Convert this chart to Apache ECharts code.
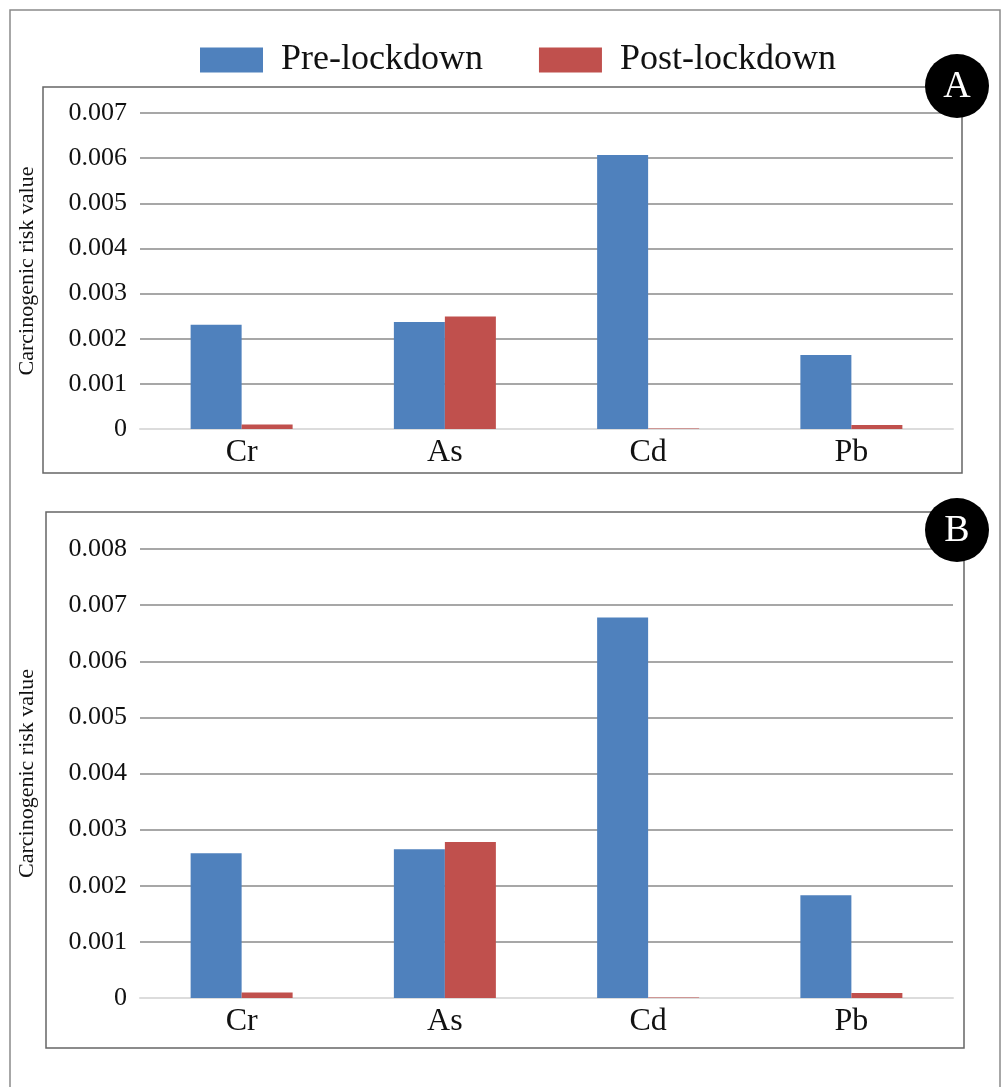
<!DOCTYPE html>
<html>
<head>
<meta charset="utf-8">
<script src="https://cdn.jsdelivr.net/npm/echarts@6/dist/echarts.min.js"></script>
<style>
  html, body { margin: 0; padding: 0; background: #fff; }
  #chart { width: 1008px; height: 1087px; }
</style>
</head>
<body>
<div id="chart"></div>
<script>
// Heavy metals on the x axis
const metals = ['Cr', 'As', 'Cd', 'Pb'];
const seriesNames = ['Pre-lockdown', 'Post-lockdown'];

// Panel A: carcinogenic risk
const preA = [0.00231, 0.00237, 0.00607, 0.00164];
const postA = [0.00010, 0.00249, 0.00001, 0.00009];

// Panel B: carcinogenic risk
const preB = [0.00258, 0.00265, 0.00678, 0.00183];
const postB = [0.00010, 0.00278, 0.00001, 0.00009];

// Value axis ranges
const maxA = 0.007;
const maxB = 0.008;
const step = 0.001;

const yName = 'Carcinogenic risk value';
const panelLetters = ['A', 'B'];

const FONT = '"Liberation Serif", "Times New Roman", serif';
const BLUE = '#4f81bd';
const RED = '#c0504d';

const chart = echarts.init(document.getElementById('chart'), null, { renderer: 'canvas' });

function xAxisFor(gridIndex) {
  return {
    type: 'category',
    gridIndex: gridIndex,
    data: metals,
    axisTick: { show: false },
    axisLine: { show: true, lineStyle: { color: '#dcdcdc', width: 2 } },
    axisLabel: { fontFamily: FONT, fontSize: 32, color: '#111', margin: 8 },
    z: 3
  };
}

function yAxisFor(gridIndex, max) {
  return {
    type: 'value',
    gridIndex: gridIndex,
    min: 0,
    max: max,
    interval: step,
    name: yName,
    nameLocation: 'middle',
    nameGap: 102,
    nameTextStyle: { fontFamily: FONT, fontSize: 22, color: '#111' },
    axisLine: { show: false },
    axisTick: { show: false },
    axisLabel: {
      fontFamily: FONT, fontSize: 26, color: '#111', margin: 13,
      formatter: v => (v === 0 ? '0' : v.toFixed(3))
    },
    splitLine: { show: true, lineStyle: { color: '#8a8a8a', width: 1.5 } }
  };
}

function barSeries(name, data, axisIndex, color) {
  return {
    name: name,
    type: 'bar',
    xAxisIndex: axisIndex,
    yAxisIndex: axisIndex,
    data: data,
    barWidth: 51,
    barGap: '0%',
    itemStyle: { color: color },
    z: 4
  };
}

// Black round badge with a white panel letter, drawn above frames and grid lines
function panelBadge(cx, cy, letter) {
  return [
    {
      type: 'circle', z: 200, zlevel: 1, silent: true,
      shape: { cx: cx, cy: cy, r: 32 }, style: { fill: '#000' }
    },
    {
      type: 'text', z: 201, zlevel: 1, silent: true, x: cx, y: cy + 1,
      style: {
        text: letter, fill: '#fff', font: '38px ' + FONT,
        textAlign: 'center', textVerticalAlign: 'middle'
      }
    }
  ];
}

chart.setOption({
  backgroundColor: '#fff',
  animation: false,
  legend: {
    data: seriesNames,
    left: 195,
    top: 37,
    itemWidth: 63,
    itemHeight: 25,
    itemGap: 56,
    icon: 'rect',
    textStyle: { fontFamily: FONT, fontSize: 36, color: '#111', padding: [0, 0, 0, 13] }
  },
  grid: [
    { left: 140, right: 55, top: 113, height: 316 },
    { left: 140, right: 55, top: 549, height: 449 }
  ],
  xAxis: [xAxisFor(0), xAxisFor(1)],
  yAxis: [yAxisFor(0, maxA), yAxisFor(1, maxB)],
  series: [
    barSeries(seriesNames[0], preA, 0, BLUE),
    barSeries(seriesNames[1], postA, 0, RED),
    barSeries(seriesNames[0], preB, 1, BLUE),
    barSeries(seriesNames[1], postB, 1, RED)
  ],
  graphic: [
    // outer frame
    {
      type: 'rect', z: 0, silent: true,
      shape: { x: 10, y: 10, width: 990, height: 1100 },
      style: { fill: 'none', stroke: '#8a8a8a', lineWidth: 1.5 }
    },
    // panel frames
    {
      type: 'rect', z: 1, silent: true,
      shape: { x: 43, y: 87, width: 919, height: 386 },
      style: { fill: 'none', stroke: '#666', lineWidth: 1.5 }
    },
    {
      type: 'rect', z: 1, silent: true,
      shape: { x: 46, y: 512, width: 918, height: 536 },
      style: { fill: 'none', stroke: '#666', lineWidth: 1.5 }
    },
    ...panelBadge(957, 86, panelLetters[0]),
    ...panelBadge(957, 530, panelLetters[1])
  ]
});
</script>
</body>
</html>
